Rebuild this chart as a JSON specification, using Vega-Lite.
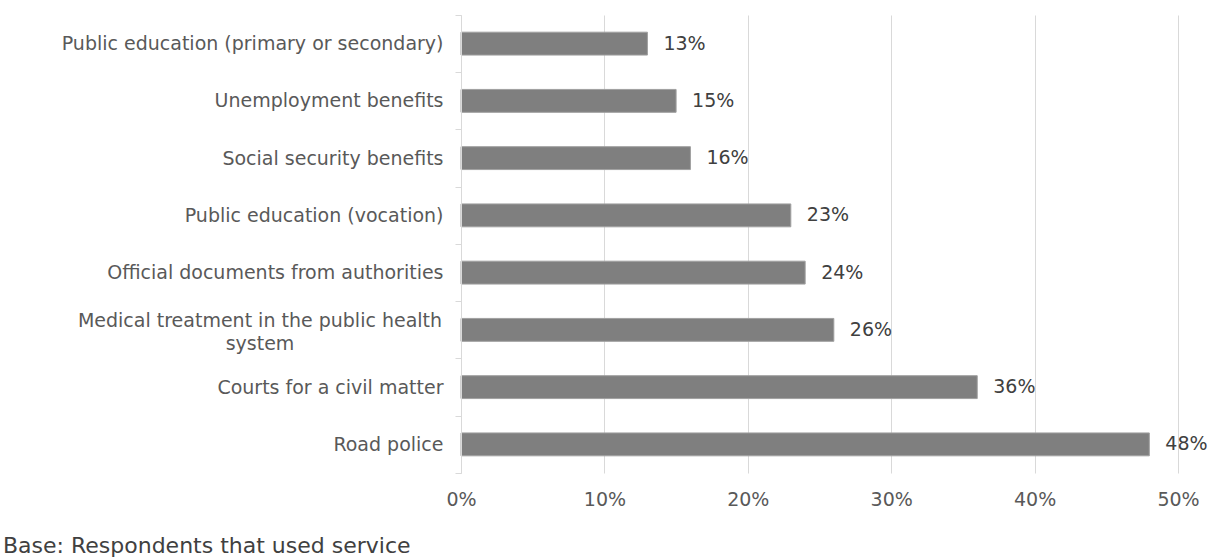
{
  "$schema": "https://vega.github.io/schema/vega-lite/v6.json",
  "autosize": {"type": "none"},
  "padding": {"left": 461, "top": 15, "right": 45, "bottom": 85},
  "width": 717,
  "height": 458,
  "background": "white",
  "title": {
    "text": "Base: Respondents that used service",
    "orient": "bottom",
    "anchor": "start",
    "frame": "group",
    "dx": -458,
    "offset": 27,
    "font": "DejaVu Sans",
    "fontSize": 22,
    "fontWeight": "normal",
    "color": "#404040"
  },
  "config": {
    "view": {"stroke": null},
    "font": "DejaVu Sans"
  },
  "data": {
    "values": [
      {"service": "Public education (primary or secondary)", "share": 0.13},
      {"service": "Unemployment benefits", "share": 0.15},
      {"service": "Social security benefits", "share": 0.16},
      {"service": "Public education (vocation)", "share": 0.23},
      {"service": "Official documents from authorities", "share": 0.24},
      {"service": "Medical treatment in the public health system", "share": 0.26},
      {"service": "Courts for a civil matter", "share": 0.36},
      {"service": "Road police", "share": 0.48}
    ]
  },
  "encoding": {
    "y": {
      "field": "service",
      "type": "nominal",
      "sort": null,
      "scale": {"paddingInner": 0.6, "paddingOuter": 0.3},
      "axis": {
        "title": null,
        "zindex": 1,
        "domainColor": "#d9d9d9",
        "tickColor": "#d9d9d9",
        "tickSize": 6,
        "bandPosition": 2.5,
        "tickOffset": -17.175,
        "labelOffset": 17.175,
        "tickExtra": true,
        "labelPadding": 12,
        "labelFont": "DejaVu Sans",
        "labelFontSize": 19,
        "labelColor": "#595959",
        "labelLimit": 460,
        "labelExpr": "datum.value == 'Medical treatment in the public health system' ? '' : datum.value"
      }
    },
    "x": {
      "field": "share",
      "type": "quantitative",
      "scale": {"domain": [0, 0.5], "nice": false},
      "axis": {
        "title": null,
        "format": ".0%",
        "values": [0, 0.1, 0.2, 0.3, 0.4, 0.5],
        "domain": false,
        "ticks": false,
        "grid": true,
        "gridColor": "#d9d9d9",
        "labelFlush": false,
        "labelPadding": 17,
        "labelFont": "DejaVu Sans",
        "labelFontSize": 19,
        "labelColor": "#595959"
      }
    }
  },
  "layer": [
    {
      "mark": {"type": "bar", "color": "#7f7f7f", "stroke": "#a0a0a0", "strokeWidth": 1}
    },
    {
      "mark": {"type": "text", "align": "left", "baseline": "middle", "dx": 16, "font": "DejaVu Sans", "fontSize": 19, "color": "#404040"},
      "encoding": {
        "text": {"field": "share", "type": "quantitative", "format": ".0%"}
      }
    },
    {
      "transform": [{"filter": "datum.service == 'Medical treatment in the public health system'"}],
      "mark": {"type": "text", "align": "center", "baseline": "middle", "dx": -201, "dy": -9, "lineHeight": 23, "font": "DejaVu Sans", "fontSize": 19, "color": "#595959"},
      "encoding": {
        "x": {"datum": 0},
        "text": {"value": ["Medical treatment in the public health", "system"]}
      }
    }
  ]
}
